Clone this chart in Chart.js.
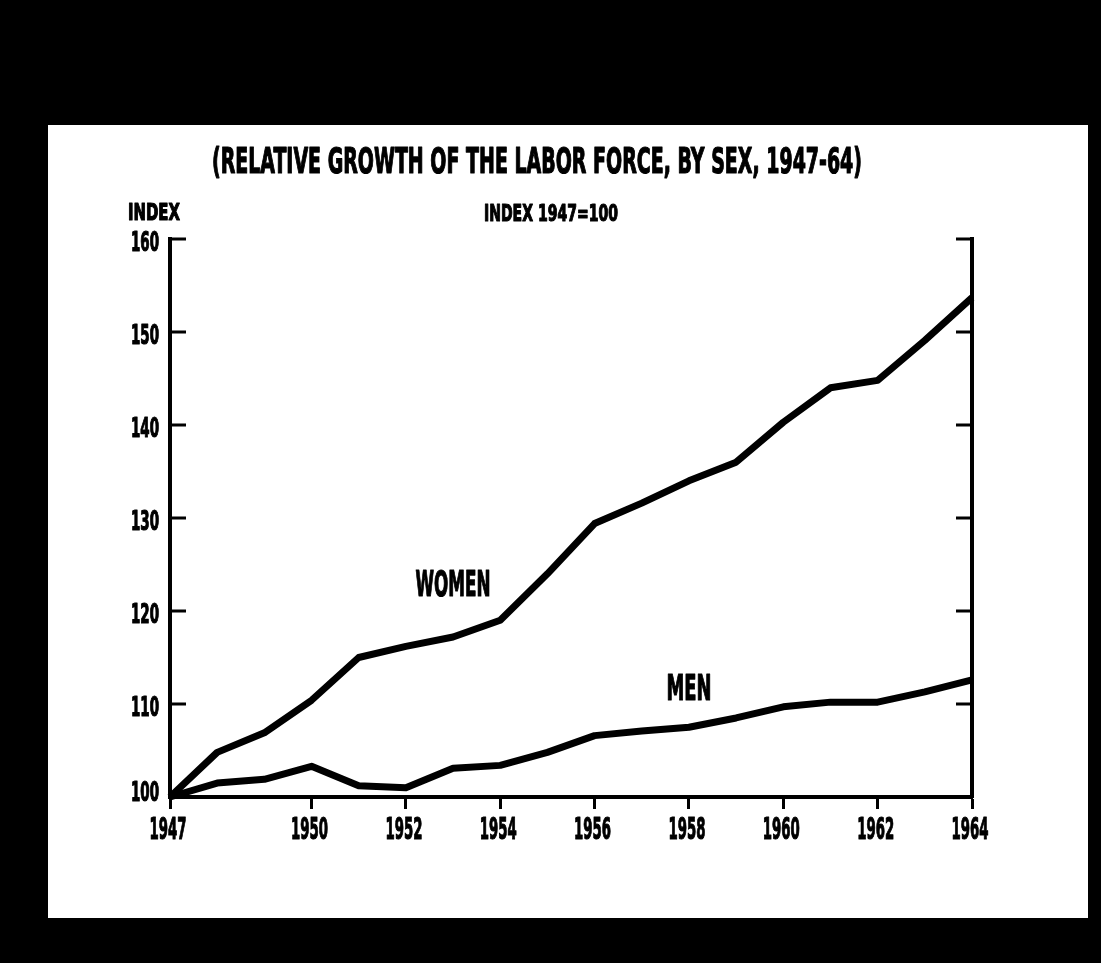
<!DOCTYPE html>
<html>
<head>
<meta charset="utf-8">
<script src="https://cdn.jsdelivr.net/npm/chart.js@4/dist/chart.umd.min.js"></script>
<style>
  html, body { margin: 0; background: #000; }
  #wrap { width: 1101px; height: 963px; }
</style>
</head>
<body>
<div id="wrap"><canvas id="laborChart"></canvas></div>
<script>
const years = [1947, 1948, 1949, 1950, 1951, 1952, 1953, 1954, 1955, 1956, 1957, 1958, 1959, 1960, 1961, 1962, 1963, 1964];
const women = [100, 104.8, 106.9, 110.4, 115, 116.2, 117.2, 119, 124, 129.4, 131.6, 134, 136, 140.3, 144, 144.8, 149.1, 153.7];
const men = [100, 101.5, 101.9, 103.3, 101.2, 101, 103.1, 103.4, 104.8, 106.6, 107.1, 107.5, 108.5, 109.7, 110.2, 110.2, 111.3, 112.6];
const xTickLabels = [1947, 1950, 1952, 1954, 1956, 1958, 1960, 1962, 1964];

const FONT = '"DejaVu Sans Condensed", "Liberation Sans Narrow", sans-serif';

// draw bold condensed text squeezed into a box (the scan uses a tall heavy gothic face)
function boxText(ctx, text, cx, top, w, h) {
    const size = h / 0.72;
    ctx.save();
    ctx.font = 'bold ' + size + 'px ' + FONT;
    ctx.fillStyle = '#000';
    ctx.strokeStyle = '#000';
    ctx.lineWidth = 1.2;
    ctx.lineJoin = 'round';
    ctx.textAlign = 'center';
    ctx.textBaseline = 'alphabetic';
    const mw = ctx.measureText(text).width;
    ctx.translate(cx, top + h);
    ctx.scale(w / mw, 1);
    ctx.fillText(text, 0, 0);
    ctx.strokeText(text, 0, 0);
    ctx.restore();
}

const paper = {
    id: 'paper',
    beforeDraw(chart) {
        const ctx = chart.ctx;
        ctx.save();
        ctx.fillStyle = '#000';
        ctx.fillRect(0, 0, chart.width, chart.height);
        ctx.fillStyle = '#fff';
        ctx.fillRect(48, 125, 1040, 793);
        ctx.restore();
    },
    afterDraw(chart) {
        const ctx = chart.ctx;
        const x = chart.scales.x;
        const y = chart.scales.y;
        const area = chart.chartArea;

        // inward ticks on both vertical axes
        ctx.save();
        ctx.strokeStyle = '#000';
        ctx.lineWidth = 3;
        for (const t of y.ticks) {
            if (t.value === 100) continue;
            const py = y.getPixelForValue(t.value);
            ctx.beginPath();
            ctx.moveTo(area.left, py);
            ctx.lineTo(area.left + 16, py);
            ctx.moveTo(area.right, py);
            ctx.lineTo(area.right - 16, py);
            ctx.stroke();
        }
        ctx.restore();

        // tick labels in the tall condensed face
        for (const t of y.ticks) {
            const py = y.getPixelForValue(t.value);
            const dy = t.value === 100 ? -6 : 2;
            boxText(ctx, String(t.value), area.left - 25, py - 9 + dy, 28, 19);
        }
        for (const t of x.ticks) {
            boxText(ctx, String(t.value), x.getPixelForValue(t.value) - 2, area.bottom + 20, 37, 22);
        }

        boxText(ctx, '(RELATIVE GROWTH OF THE LABOR FORCE, BY SEX, 1947-64)', 537, 148, 650, 25);
        boxText(ctx, 'INDEX 1947=100', 551, 204, 134, 17);
        boxText(ctx, 'INDEX', 154, 203, 52, 17);

        boxText(ctx, 'WOMEN', x.getPixelForValue(1953), y.getPixelForValue(123) - 12, 75, 25);
        boxText(ctx, 'MEN', x.getPixelForValue(1958), y.getPixelForValue(111.8) - 13, 45, 26);
    }
};

new Chart(
    document.getElementById('laborChart'),
    {
        type: 'line',
        data: {
            datasets: [
                {
                    label: 'Women',
                    data: years.map((yr, i) => ({x: yr, y: women[i]})),
                    borderColor: '#000',
                    borderWidth: 7,
                    pointRadius: 0,
                    tension: 0,
                    borderJoinStyle: 'round',
                    clip: 8,
                },
                {
                    label: 'Men',
                    data: years.map((yr, i) => ({x: yr, y: men[i]})),
                    borderColor: '#000',
                    borderWidth: 7,
                    pointRadius: 0,
                    tension: 0,
                    borderJoinStyle: 'round',
                    clip: 8,
                }
            ]
        },
        options: {
            responsive: true,
            maintainAspectRatio: false,
            animation: false,
            layout: {
                padding: {top: 239, left: 0, right: 0, bottom: 0}
            },
            plugins: {
                legend: {display: false},
                tooltip: {enabled: false}
            },
            scales: {
                x: {
                    type: 'linear',
                    min: 1947,
                    max: 1964,
                    afterBuildTicks: (scale) => {
                        scale.ticks = xTickLabels.map(v => ({value: v}));
                    },
                    afterFit: (scale) => {
                        scale.height = 166;
                    },
                    ticks: {
                        display: false,
                        autoSkip: false,
                    },
                    grid: {
                        drawOnChartArea: false,
                        tickLength: 12,
                        tickWidth: 3,
                        tickColor: '#000',
                    },
                    border: {
                        color: '#000',
                        width: 4,
                    }
                },
                y: {
                    position: 'left',
                    min: 100,
                    max: 160,
                    afterFit: (scale) => {
                        scale.width = 170;
                    },
                    ticks: {
                        display: false,
                        stepSize: 10,
                    },
                    grid: {
                        drawOnChartArea: false,
                        drawTicks: false,
                    },
                    border: {
                        color: '#000',
                        width: 4,
                    }
                },
                y2: {
                    position: 'right',
                    min: 100,
                    max: 160,
                    afterFit: (scale) => {
                        scale.width = 129;
                    },
                    ticks: {display: false, stepSize: 10},
                    grid: {
                        drawOnChartArea: false,
                        drawTicks: false,
                    },
                    border: {
                        color: '#000',
                        width: 4,
                    }
                }
            }
        },
        plugins: [paper]
    }
);
</script>
</body>
</html>
